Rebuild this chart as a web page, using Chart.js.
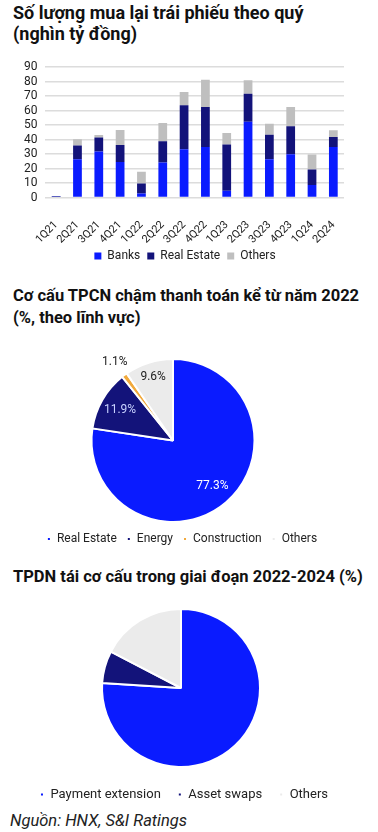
<!DOCTYPE html>
<html>
<head>
<meta charset="utf-8">
<script src="https://cdn.jsdelivr.net/npm/chart.js@4/dist/chart.umd.min.js"></script>
<style>
  html, body { margin:0; padding:0; background:#fff; width:378px; height:832px; overflow:hidden; font-family: Roboto, "Noto Sans", sans-serif; }
  .t { position:absolute; left:13px; font-weight:700; font-size:16.5px; line-height:22px; color:#111; white-space:nowrap; }
  .box { position:absolute; }
  #src { position:absolute; left:10px; top:811px; font-style:italic; font-size:16.5px; color:#222; }
</style>
</head>
<body>
<div class="t" style="top:2px;font-size:18px;line-height:21px;">Số lượng mua lại trái phiếu theo quý<br>(nghìn tỷ đồng)</div>
<div class="box" style="left:0;top:52px;width:378px;height:223px;"><canvas id="bar"></canvas></div>

<div class="t" style="top:285px;">Cơ cấu TPCN chậm thanh toán kể từ năm 2022<br>(%, theo lĩnh vực)</div>
<div class="box" style="left:0;top:350px;width:378px;height:205px;"><canvas id="pie1"></canvas></div>

<div class="t" style="top:566px;">TPDN tái cơ cấu trong giai đoạn 2022-2024 (%)</div>
<div class="box" style="left:0;top:600px;width:378px;height:208px;"><canvas id="pie2"></canvas></div>

<div id="src">Nguồn: HNX, S&amp;I Ratings</div>

<script>
// ---- Data ----
const quarters = ["1Q21","2Q21","3Q21","4Q21","1Q22","2Q22","3Q22","4Q22","1Q23","2Q23","3Q23","4Q23","1Q24","2Q24"];
const banks      = [0.3, 26.4, 31.7, 24.6, 2.8, 24.1, 33.3, 34.9, 4.6, 52.4, 26.4, 29.9, 8.7, 34.9];
const realEstate = [0.4, 9.5, 9.7, 11.7, 6.9, 14.8, 30.4, 27.6, 32.0, 19.3, 17.0, 19.3, 10.6, 6.9];
const othersBar  = [0.4, 4.3, 1.8, 10.4, 8.0, 12.6, 9.2, 18.9, 8.0, 9.2, 7.6, 13.3, 10.4, 4.6];
const yTicks = [0,10,20,30,40,50,60,70,80,90];

const sectorLabels = ["Real Estate","Energy","Construction","Others"];
const sectorValues = [77.3, 11.9, 1.1, 9.6];

const restructLabels = ["Payment extension","Asset swaps","Others"];
const restructValues = [76.0, 6.6, 17.4];

// ---- Styles ----
const BLUE = "#0a1bff", NAVY = "#13137a", GREY = "#bfbfbf", ORANGE = "#f2a93b", LIGHT = "#ebebeb";
Chart.defaults.font.family = "Roboto, 'Noto Sans', sans-serif";
Chart.defaults.color = "#222";
Chart.defaults.animation = false;

const shiftLegend = {
  id: "shiftLegend",
  afterLayout(chart, args, opts) {
    const dx = opts.dx || 0, dy = opts.dy || 0;
    if (!chart.legend) return;
    chart.legend.left += dx; chart.legend.right += dx;
    chart.legend.top += dy; chart.legend.bottom += dy;
  }
};

new Chart(document.getElementById("bar"), {
  type: "bar",
  data: {
    labels: quarters,
    datasets: [
      { label: "Banks", data: banks, backgroundColor: BLUE },
      { label: "Real Estate", data: realEstate, backgroundColor: NAVY },
      { label: "Others", data: othersBar, backgroundColor: GREY }
    ]
  },
  options: {
    responsive: true, maintainAspectRatio: false,
    layout: { padding: { left: 16, right: 34, top: 0, bottom: 0 } },
    datasets: { bar: { barPercentage: 0.82, categoryPercentage: 0.5 } },
    scales: {
      x: { stacked: true, grid: { display: false }, border: { display: false },
           afterFit: (s) => { s.height = 48.5; },
           ticks: { autoSkip: false, minRotation: 45, maxRotation: 45, padding: 13, font: { size: 11 }, color: "#222" } },
      y: { stacked: true, min: 0, max: 90,
           afterBuildTicks: (s) => { s.ticks = yTicks.map(v => ({ value: v })); },
           grid: { color: "#dcdcdc", lineWidth: 1.5, drawTicks: false }, border: { display: false },
           ticks: { autoSkip: false, padding: 8, font: { size: 12 }, color: "#222" } }
    },
    plugins: {
      legend: { position: "bottom", labels: { boxWidth: 7, boxHeight: 7, padding: 7, font: { size: 12 }, color: "#222" } },
      tooltip: { enabled: false },
      shiftLegend: { dx: 5, dy: -3 }
    }
  },
  plugins: [shiftLegend]
});

// label plugin for pie 1
const pieLabels = {
  id: "pieLabels",
  afterDatasetsDraw(chart, args, opts) {
    const ctx = chart.ctx;
    const meta = chart.getDatasetMeta(0);
    const ds = chart.data.datasets[0];
    ctx.save();
    ctx.font = "12px Roboto, 'Noto Sans', sans-serif";
    ctx.textAlign = "center"; ctx.textBaseline = "middle";
    meta.data.forEach((arc, i) => {
      const p = arc.getProps(["x","y","startAngle","endAngle","outerRadius"], true);
      const mid = (p.startAngle + p.endAngle) / 2;
      const f = opts.radii[i];
      const x = p.x + Math.cos(mid) * p.outerRadius * f;
      const y = p.y + Math.sin(mid) * p.outerRadius * f;
      ctx.fillStyle = opts.colors[i];
      ctx.fillText(ds.data[i].toFixed(1) + "%", x, y);
    });
    ctx.restore();
  }
};

new Chart(document.getElementById("pie1"), {
  type: "pie",
  data: {
    labels: sectorLabels,
    datasets: [{ data: sectorValues, backgroundColor: [BLUE, NAVY, ORANGE, LIGHT], borderColor: "#fff", borderWidth: 2 }]
  },
  options: {
    responsive: true, maintainAspectRatio: false,
    layout: { padding: { left: 0, right: 32, top: 8, bottom: 0 } },
    plugins: {
      legend: { position: "bottom", labels: { usePointStyle: true, pointStyle: "rect", boxWidth: 4, boxHeight: 4, padding: 10, font: { size: 12 }, color: "#222" } },
      tooltip: { enabled: false },
      shiftLegend: { dx: 9 },
      pieLabels: { radii: [0.74, 0.75, 1.2, 0.82], colors: ["#ffffff", "#c8d2ff", "#222", "#222"] }
    }
  },
  plugins: [pieLabels, shiftLegend]
});

new Chart(document.getElementById("pie2"), {
  type: "pie",
  data: {
    labels: restructLabels,
    datasets: [{ data: restructValues, backgroundColor: [BLUE, NAVY, LIGHT], borderColor: "#fff", borderWidth: 2 }]
  },
  options: {
    responsive: true, maintainAspectRatio: false,
    layout: { padding: { left: 0, right: 16, top: 8, bottom: 0 } },
    plugins: {
      legend: { position: "bottom", labels: { usePointStyle: true, pointStyle: "rect", boxWidth: 4, boxHeight: 4, padding: 17, font: { size: 13 }, color: "#222" } },
      tooltip: { enabled: false },
      shiftLegend: { dx: 3, dy: 3 }
    }
  },
  plugins: [shiftLegend]
});
</script>
</body>
</html>
